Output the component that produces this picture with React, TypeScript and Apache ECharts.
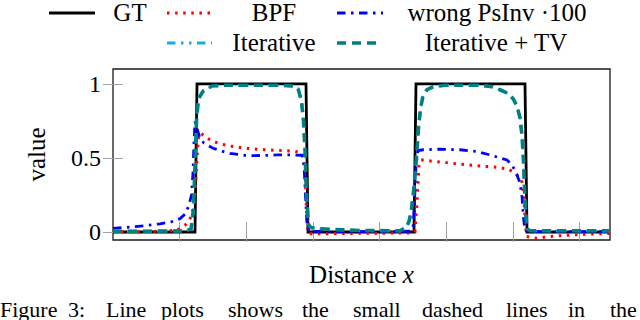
import React, { useEffect, useRef } from "react";
import * as echarts from "echarts";

// ---- data (x in axis units: tick spacing = 1) ----
const xTicks = [1, 2, 3, 4, 5, 6, 7];
const yTicks = [0, 0.5, 1];

const gtX = [0, 1.23, 1.26, 2.895, 2.925, 4.515, 4.545, 6.18, 6.21, 7.455];
const gtY = [0, 0, 1, 1, 0, 0, 1, 1, 0, 0];

const bpfX = [0, 0.405, 0.78, 0.96, 1.08, 1.155, 1.2, 1.23, 1.26, 1.282, 1.312, 1.35, 1.41, 1.485, 1.605, 1.785, 1.98, 2.28, 2.535, 2.73, 2.805, 2.85, 2.88, 2.902, 2.925, 3.03, 3.405, 4.005, 4.455, 4.53, 4.56, 4.59, 4.62, 4.8, 5.16, 5.46, 5.76, 5.925, 5.985, 6.06, 6.13, 6.16, 6.18, 6.2, 6.36, 6.51, 6.705, 6.96, 7.305, 7.455];
const bpfY = [0.002, 0.002, 0.006, 0.013, 0.045, 0.09, 0.15, 0.25, 0.5, 0.64, 0.67, 0.655, 0.635, 0.615, 0.595, 0.578, 0.565, 0.555, 0.55, 0.545, 0.535, 0.52, 0.4, 0.15, -0.01, -0.013, -0.01, -0.008, -0.006, 0.0, 0.2, 0.45, 0.487, 0.477, 0.46, 0.447, 0.437, 0.425, 0.41, 0.385, 0.35, 0.25, 0.1, -0.03, -0.043, -0.032, -0.025, -0.018, -0.012, -0.01];

const psX = [0, 0.255, 0.48, 0.705, 0.885, 1.005, 1.08, 1.14, 1.177, 1.2, 1.215, 1.23, 1.26, 1.305, 1.365, 1.5, 1.605, 1.755, 1.98, 2.1, 2.28, 2.46, 2.655, 2.835, 2.865, 2.887, 2.91, 2.94, 3.255, 4.005, 4.455, 4.5, 4.522, 4.545, 4.575, 4.65, 4.905, 5.205, 5.46, 5.655, 5.805, 5.91, 5.985, 6.06, 6.105, 6.135, 6.157, 6.18, 6.225, 7.455];
const psY = [0.025, 0.033, 0.043, 0.055, 0.07, 0.09, 0.12, 0.18, 0.25, 0.4, 0.6, 0.745, 0.7, 0.63, 0.6, 0.565, 0.55, 0.53, 0.518, 0.515, 0.517, 0.52, 0.52, 0.518, 0.45, 0.25, 0.05, 0.005, 0.003, 0.003, 0.005, 0.02, 0.2, 0.45, 0.55, 0.555, 0.559, 0.555, 0.543, 0.52, 0.5, 0.486, 0.453, 0.385, 0.33, 0.24, 0.1, 0.01, 0.003, 0.003];

const iterX = [0, 0.555, 1.08, 1.17, 1.207, 1.23, 1.252, 1.282, 1.35, 1.485, 1.68, 2.505, 2.7, 2.775, 2.828, 2.857, 2.88, 2.902, 2.932, 2.97, 3.03, 3.255, 3.705, 4.305, 4.395, 4.44, 4.477, 4.515, 4.552, 4.582, 4.612, 4.65, 4.71, 4.8, 4.98, 5.505, 5.685, 5.805, 5.925, 6.0, 6.06, 6.105, 6.135, 6.157, 6.172, 6.187, 6.21, 6.255, 7.455];
const iterY = [0.005, 0.005, 0.008, 0.02, 0.15, 0.45, 0.75, 0.9, 0.95, 0.984, 0.99, 0.99, 0.985, 0.968, 0.88, 0.75, 0.55, 0.25, 0.05, 0.03, 0.025, 0.018, 0.01, 0.008, 0.03, 0.07, 0.15, 0.3, 0.5, 0.7, 0.83, 0.92, 0.96, 0.98, 0.99, 0.99, 0.98, 0.96, 0.935, 0.9, 0.85, 0.77, 0.65, 0.48, 0.3, 0.15, 0.02, 0.008, 0.008];

const tvX = [0, 0.555, 1.08, 1.17, 1.207, 1.23, 1.252, 1.282, 1.35, 1.485, 1.68, 2.505, 2.7, 2.775, 2.828, 2.857, 2.88, 2.902, 2.932, 2.97, 3.03, 3.255, 3.705, 4.305, 4.395, 4.44, 4.477, 4.515, 4.552, 4.582, 4.612, 4.65, 4.71, 4.8, 4.98, 5.505, 5.685, 5.805, 5.925, 6.0, 6.06, 6.105, 6.135, 6.157, 6.172, 6.187, 6.21, 6.255, 7.455];
const tvY = [0.005, 0.005, 0.008, 0.02, 0.15, 0.45, 0.75, 0.9, 0.95, 0.985, 0.99, 0.99, 0.985, 0.97, 0.88, 0.75, 0.55, 0.25, 0.05, 0.03, 0.025, 0.018, 0.01, 0.008, 0.03, 0.07, 0.15, 0.3, 0.5, 0.7, 0.83, 0.92, 0.96, 0.98, 0.99, 0.99, 0.98, 0.96, 0.935, 0.9, 0.85, 0.77, 0.65, 0.48, 0.3, 0.15, 0.02, 0.008, 0.008];

const seriesNames = ["GT", "BPF", "wrong PsInv ·100", "Iterative", "Iterative + TV"];
const captionWords = ["Figure", "3:", "Line", "plots", "shows", "the", "small", "dashed", "lines", "in", "the"];
const captionLefts = [0, 68, 106, 161, 228, 302, 353, 422, 506, 568, 610];

const FONT = "'Liberation Serif', 'Times New Roman', serif";

const zip = (xs: number[], ys: number[]) => xs.map((x, i) => [x, ys[i]]);

const styles = [
  { color: "#000000", width: 2.8, type: "solid" as any, cap: "butt" },
  { color: "#ff0000", width: 3, type: [2.5, 5.6], cap: "butt" },
  { color: "#0000ff", width: 2.8, type: [8.5, 5.5, 2.5, 5.5], cap: "butt" },
  { color: "#12aeea", width: 2.8, type: [8.5, 5.5, 2.5, 5.5, 2.5, 5.5], cap: "butt" },
  { color: "#008080", width: 3.6, type: [9, 6], cap: "butt" },
];

const legendPos = [
  { x1: 49, x2: 95, y: 13, tx: 130, ty: 12 },
  { x1: 167, x2: 212, y: 13, tx: 274, ty: 12 },
  { x1: 337, x2: 383, y: 13, tx: 497, ty: 12 },
  { x1: 167, x2: 212, y: 43, tx: 274, ty: 42 },
  { x1: 337, x2: 380, y: 43, tx: 496, ty: 42 },
];

export default function App() {
  const ref = useRef<HTMLDivElement>(null);
  useEffect(() => {
    if (!ref.current) return;
    const chart = echarts.init(ref.current, null, { renderer: "svg" });
    const datasets = [zip(gtX, gtY), zip(bpfX, bpfY), zip(psX, psY), zip(iterX, iterY), zip(tvX, tvY)];

    const graphics: any[] = [];
    seriesNames.forEach((name, i) => {
      const p = legendPos[i];
      const s = styles[i];
      graphics.push({
        type: "line",
        shape: { x1: p.x1, y1: p.y, x2: p.x2, y2: p.y },
        style: {
          stroke: s.color,
          lineWidth: s.width,
          lineDash: Array.isArray(s.type) ? s.type : null,
          lineCap: "butt",
        },
      });
      graphics.push({
        type: "text",
        x: p.tx,
        y: p.ty,
        style: {
          text: name,
          fill: "#000",
          fontSize: 25,
          fontFamily: FONT,
          textAlign: "center",
          textVerticalAlign: "middle",
          align: "center",
          verticalAlign: "middle",
        },
      });
    });
    captionWords.forEach((w, i) => {
      graphics.push({
        type: "text",
        x: captionLefts[i],
        y: 320,
        style: {
          text: w,
          fill: "#000",
          fontSize: 22,
          fontFamily: FONT,
          textAlign: "left",
          textVerticalAlign: "bottom",
          align: "left",
          verticalAlign: "bottom",
        },
      });
    });

    const tickStyle = { show: true, inside: true, length: 10, lineStyle: { color: "#a0a0a0", width: 1 } };

    chart.setOption({
      animation: false,
      textStyle: { fontFamily: FONT },
      grid: {
        left: 113,
        right: 30,
        top: 69,
        bottom: 80,
        show: true,
        borderColor: "#1a1a1a",
        borderWidth: 1.3,
        backgroundColor: "transparent",
      },
      xAxis: [
        {
          type: "value",
          min: 0,
          max: 7.455,
          position: "bottom",
          axisLine: { show: false },
          axisTick: { ...tickStyle, customValues: xTicks },
          axisLabel: { show: false },
          splitLine: { show: false },
          name: "Distance {i|x}",
          nameLocation: "middle",
          nameGap: 22,
          nameTextStyle: {
            fontSize: 25,
            fontFamily: FONT,
            color: "#000",
            rich: { i: { fontStyle: "italic", fontSize: 25, fontFamily: FONT, color: "#000" } },
          },
        },
        {
          type: "value",
          min: 0,
          max: 7.455,
          position: "top",
          axisLine: { show: false },
          axisTick: { ...tickStyle, customValues: xTicks },
          axisLabel: { show: false },
          splitLine: { show: false },
        },
      ],
      yAxis: [
        {
          type: "value",
          min: -0.054,
          max: 1.1,
          position: "left",
          axisLine: { show: false },
          axisTick: { ...tickStyle, customValues: yTicks },
          axisLabel: {
            customValues: yTicks,
            fontSize: 24,
            fontFamily: FONT,
            color: "#000",
            margin: 12,
          },
          splitLine: { show: false },
          name: "value",
          nameLocation: "middle",
          nameRotate: 90,
          nameGap: 64,
          nameTextStyle: { fontSize: 25, fontFamily: FONT, color: "#000" },
        },
        {
          type: "value",
          min: -0.054,
          max: 1.1,
          position: "right",
          axisLine: { show: false },
          axisTick: { ...tickStyle, customValues: yTicks },
          axisLabel: { show: false },
          splitLine: { show: false },
        },
      ],
      series: seriesNames.map((name, i) => ({
        name,
        type: "line",
        xAxisIndex: 0,
        yAxisIndex: 0,
        data: datasets[i],
        showSymbol: false,
        symbol: "none",
        clip: true,
        lineStyle: {
          color: styles[i].color,
          width: styles[i].width,
          type: styles[i].type,
          cap: styles[i].cap,
          join: "miter",
        },
        z: 2 + i,
      })),
      graphic: graphics,
    });
    return () => chart.dispose();
  }, []);
  return (
    <div
      ref={ref}
      style={{ position: "fixed", left: 0, top: 0, width: 640, height: 320, background: "#fff" }}
    />
  );
}
